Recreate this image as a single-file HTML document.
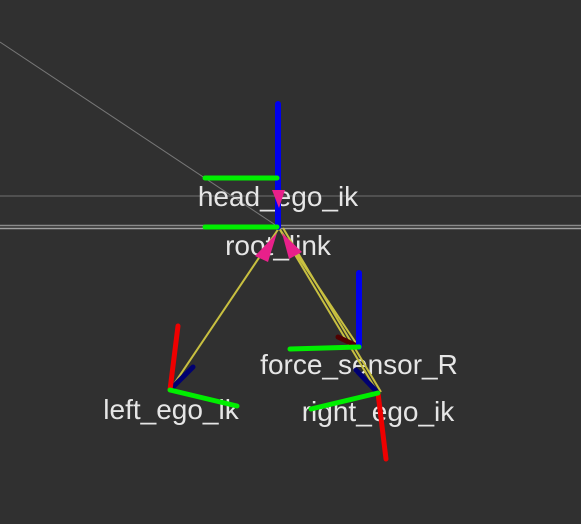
<!DOCTYPE html>
<html><head><meta charset="utf-8"><style>
html,body{margin:0;padding:0;background:#303030;}
svg{display:block}
text{font-family:"Liberation Sans",sans-serif;font-size:28px;fill:#e6e6e6;text-anchor:middle}
</style></head><body>
<svg width="581" height="524" viewBox="0 0 581 524">
<rect width="581" height="524" fill="#303030"/>
<g>
<line x1="0" y1="196" x2="581" y2="196" stroke="#5a5a5a" stroke-width="1.5"/>
<line x1="0" y1="225.5" x2="581" y2="225.5" stroke="#8a8a8a" stroke-width="1.5"/>
<line x1="0" y1="228.5" x2="581" y2="228.5" stroke="#a0a0a0" stroke-width="1.5"/>
<line x1="0" y1="42" x2="280" y2="228" stroke="#777" stroke-width="1"/>
</g>
<g>
<text x="278" y="206">head_ego_ik</text>
<text x="278" y="255">root_link</text>
<text x="359" y="374">force_sensor_R</text>
<text x="171" y="419">left_ego_ik</text>
<text x="378" y="421">right_ego_ik</text>
</g>
<g stroke="#c8c040" stroke-width="2">
<line x1="279" y1="228" x2="170" y2="390"/>
<line x1="279" y1="228" x2="378" y2="393"/>
<line x1="283" y1="228" x2="381" y2="392"/>
<line x1="279" y1="228" x2="358" y2="346"/>
</g>
<g stroke-linecap="round">
<line x1="278" y1="104" x2="278" y2="227" stroke="#0000ee" stroke-width="6"/>
<line x1="205" y1="227" x2="277" y2="227" stroke="#00ee00" stroke-width="5"/>
</g>
<g stroke-linecap="round">
<line x1="205" y1="178" x2="277" y2="178" stroke="#00ee00" stroke-width="5"/>
</g>
<g fill="#e8208a">
<polygon points="272,190 285,190 279,208"/>
<polygon points="255,256 268,262 277,233"/>
<polygon points="289,259 302,252 282,233"/>
</g>
<g stroke-linecap="round">
<line x1="170" y1="390" x2="193" y2="367" stroke="#000070" stroke-width="5"/>
<line x1="170" y1="390" x2="178" y2="326" stroke="#ee0000" stroke-width="5"/>
<line x1="170" y1="390" x2="237" y2="406" stroke="#00ee00" stroke-width="5"/>
</g>
<g stroke-linecap="round">
<line x1="359" y1="347" x2="338" y2="337" stroke="#500000" stroke-width="5"/>
<line x1="359" y1="347" x2="359" y2="273" stroke="#0000ee" stroke-width="6"/>
<line x1="359" y1="347" x2="290" y2="349" stroke="#00ee00" stroke-width="5"/>
</g>
<g stroke-linecap="round">
<line x1="378" y1="393" x2="356" y2="370" stroke="#000070" stroke-width="5"/>
<line x1="378" y1="393" x2="386" y2="459" stroke="#ee0000" stroke-width="5"/>
<line x1="378" y1="393" x2="311" y2="409" stroke="#00ee00" stroke-width="5"/>
</g>
</svg>
</body></html>
